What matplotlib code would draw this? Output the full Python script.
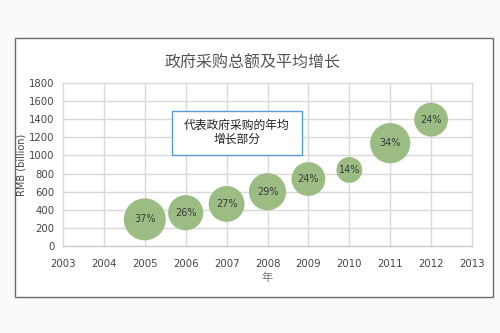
import matplotlib.pyplot as plt
from matplotlib.patches import Rectangle

plt.rcParams['font.family'] = ['Noto Sans CJK SC', 'DejaVu Sans']

# datos
years = [2005, 2006, 2007, 2008, 2009, 2010, 2011, 2012]
totals = [295, 368, 465, 600, 740, 840, 1135, 1395]
growth = [37, 26, 27, 29, 24, 14, 34, 24]

fig = plt.figure(figsize=(5, 3.33), dpi=100)
fig.patch.set_facecolor('#fafafa')

# marco del grafico
frame = Rectangle((0.03, 0.108), 0.955, 0.778, transform=fig.transFigure,
                  facecolor='white', edgecolor='#6b6b6b', linewidth=1.0, zorder=-1)
fig.patches.append(frame)

ax = fig.add_axes([0.126, 0.261, 0.818, 0.490])
ax.set_zorder(2)
ax.set_facecolor('white')

sizes = [g * 24.7 for g in growth]
ax.scatter(years, totals, s=sizes, color='#9bbd84', edgecolors='none', zorder=3)
for x, y, g in zip(years, totals, growth):
    ax.text(x, y, f'{g}%', ha='center', va='center', fontsize=7,
            color='#3a3a3a', zorder=4, family='DejaVu Sans')

ax.set_xlim(2003, 2013)
ax.set_ylim(0, 1800)
ax.set_xticks(range(2003, 2014))
ax.set_yticks(range(0, 1801, 200))
ax.grid(True, color='#d9d9d9', linewidth=1.0, zorder=0)
for gl in ax.get_xgridlines() + ax.get_ygridlines():
    gl.set_clip_on(False)
ax.set_axisbelow(True)
for side in ['top', 'right', 'left']:
    ax.spines[side].set_visible(False)
ax.spines['bottom'].set_color('#c8c8c8')
ax.tick_params(length=0, labelsize=7.3, colors='#444444')
ax.tick_params(axis='x', pad=9)
ax.tick_params(axis='y', pad=6)
for lbl in ax.get_xticklabels() + ax.get_yticklabels():
    lbl.set_family('DejaVu Sans')

ax.set_ylabel('RMB (billion)', fontsize=7, color='#444444', family='DejaVu Sans', labelpad=2)
ax.set_xlabel('年', fontsize=8, color='#777777', labelpad=3)

fig.text(0.506, 0.81, '政府采购总额及平均增长', ha='center', va='center',
         fontsize=11.5, color='#555555')

# cuadro de texto
box = Rectangle((0.344, 0.535), 0.26, 0.133, transform=fig.transFigure,
                facecolor='white', edgecolor='#5b9bd5', linewidth=1.0, zorder=5)
fig.patches.append(box)
fig.text(0.474, 0.602, '代表政府采购的年均\n增长部分', ha='center', va='center',
         fontsize=8.5, color='#222222', linespacing=1.1, zorder=6)

fig.savefig('out.png', dpi=100)
